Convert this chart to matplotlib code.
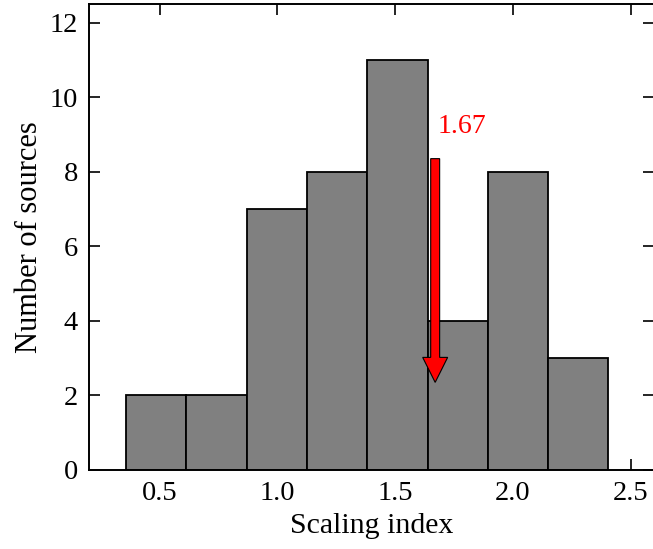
import matplotlib
matplotlib.use('Agg')
import matplotlib.pyplot as plt
import numpy as np

# histogram of scaling indices
bin_edges = [0.358, 0.614, 0.870, 1.126, 1.382, 1.638, 1.894, 2.150, 2.406]
counts = [2, 2, 7, 8, 11, 4, 8, 3]
marker_value = 1.67
marker_label = "1.67"

plt.rcParams['font.family'] = ['Liberation Serif', 'DejaVu Serif']
plt.rcParams['mathtext.fontset'] = 'stix'

fig = plt.figure(figsize=(6.53, 5.49), dpi=100)
ax = fig.add_axes([0.1363, 0.1439, 0.8655, 0.849])

edges = np.array(bin_edges)
ax.bar(edges[:-1], counts, width=np.diff(edges), align='edge',
       color='#808080', edgecolor='black', linewidth=1.3, zorder=2)

# red arrow marking the mean index
ax.arrow(marker_value, 8.35, 0, -6.0, width=0.038, head_width=0.106,
         head_length=0.67, length_includes_head=True,
         facecolor='red', edgecolor='black', linewidth=0.8, zorder=5)
ax.text(marker_value + 0.01, 9.2, marker_label, color='red', fontsize=20,
        ha='left', va='center')

ax.set_xlim(0.2, 2.6)
ax.set_ylim(0, 12.5)
ax.set_xticks([0.5, 1.0, 1.5, 2.0, 2.5])
ax.set_yticks([0, 2, 4, 6, 8, 10, 12])
ax.tick_params(direction='in', length=8, width=1.2, top=True, right=True,
               labelsize=20.5, pad=8)
for s in ax.spines.values():
    s.set_linewidth(1.4)

ax.set_xlabel("Scaling index", fontsize=21.5, labelpad=5)
ax.set_ylabel("Number of sources", fontsize=22, labelpad=4)

fig.savefig("out.png", dpi=100)
